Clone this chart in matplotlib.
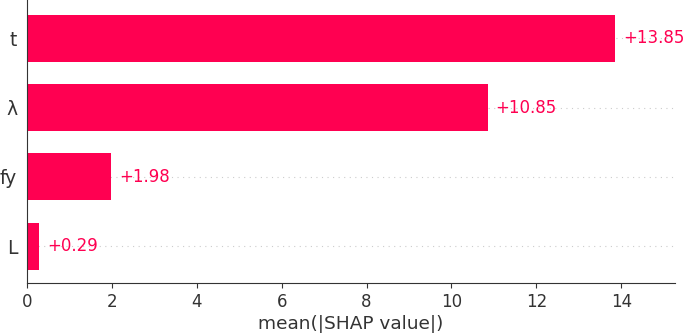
import matplotlib
matplotlib.use("Agg")
import matplotlib.pyplot as plt
import numpy as np

# feature names (top to bottom) and mean |SHAP| values
features = ["t", "λ", "fy", "L"]
values = [13.85, 10.85, 1.98, 0.29]
xticks = [0, 2, 4, 6, 8, 10, 12, 14]

red = "#ff0051"
dark = "#333333"

fig = plt.figure(figsize=(6.85, 3.34), dpi=100)
ax = fig.add_axes([0.0394, 0.1527, 0.9456, 0.8473])

y_pos = np.arange(len(features), 0, -1)
for y in y_pos:
    ax.axhline(y, color="#cccccc", lw=0.8, dashes=(1, 4), zorder=-1)

ax.barh(y_pos, values, height=0.68, color=red, align="center")

xmax = 15.26
for y, v in zip(y_pos, values):
    ax.text(v + xmax / 80, y, "+%.2f" % v, color=red, fontsize=12,
            ha="left", va="center")

ax.set_xlim(0, xmax)
ax.set_ylim(0.47, 4.55)
ax.set_yticks(y_pos)
ax.set_yticklabels(features, fontsize=13.5)
ax.set_xticks(xticks)
ax.tick_params(axis="x", labelsize=12, colors=dark)
ax.tick_params(axis="y", length=0, pad=7, colors=dark)
ax.spines["top"].set_visible(False)
ax.spines["right"].set_visible(False)
ax.spines["left"].set_color(dark)
ax.spines["bottom"].set_color(dark)
ax.set_xlabel("mean(|SHAP value|)", fontsize=13.3, color=dark, labelpad=3)

fig.savefig("out.png", dpi=100)
